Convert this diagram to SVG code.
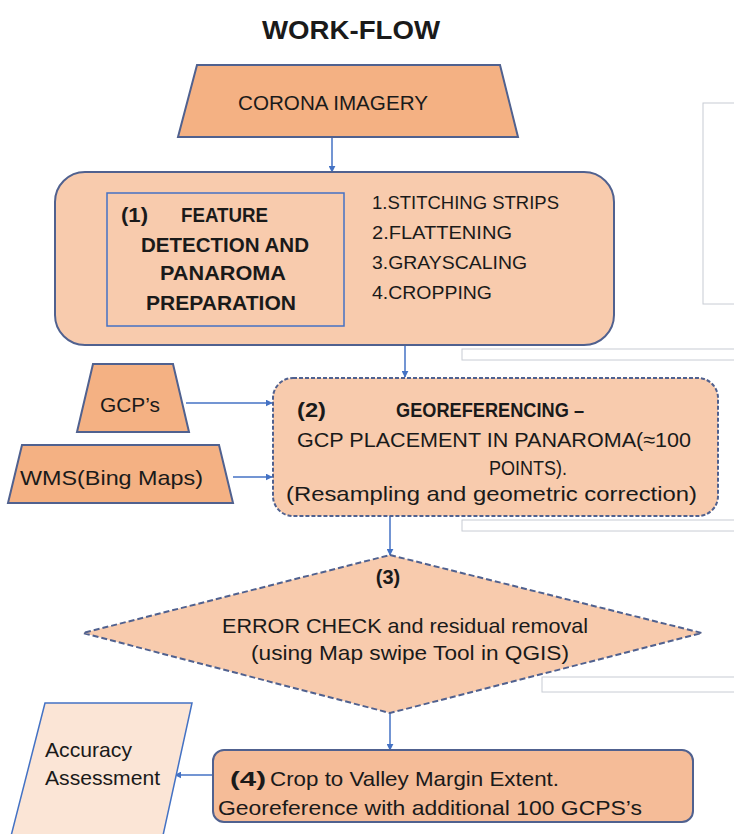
<svg xmlns="http://www.w3.org/2000/svg" width="734" height="834" viewBox="0 0 734 834">
<style>
text{font-family:"Liberation Sans","Noto Sans",Arial,sans-serif;fill:#1a1a1a}
.t{font-size:21px}
.s{font-size:18.5px}
.b{font-weight:bold}
.node{stroke:#50618f;stroke-width:2}
.dash{stroke-dasharray:4 2}
.dash2{stroke-dasharray:6 3}
.strong{fill:#F4B183}
.light{fill:#F8CBAD}
.conn{stroke:#4472C4;stroke-width:1.5;fill:none;marker-end:url(#ah)}
.ghost{fill:#fff;stroke:#c8ccd4;stroke-width:1}
</style>
<defs>
<marker id="ah" viewBox="0 0 10 10" refX="9" refY="5" markerWidth="7" markerHeight="7" orient="auto" markerUnits="userSpaceOnUse">
<path d="M0,0 L10,5 L0,10 z" fill="#4472C4"/>
</marker>
</defs>
<rect width="734" height="834" fill="#fff"/>
<g id="ghosts">
<rect class="ghost" x="703" y="103" width="40" height="201"/>
<rect class="ghost" x="462" y="349" width="280" height="11"/>
<rect class="ghost" x="462" y="520" width="280" height="11"/>
<rect class="ghost" x="542" y="677" width="200" height="15"/>
</g>
<text x="262" y="39" class="b" font-size="25" textLength="178" lengthAdjust="spacingAndGlyphs">WORK-FLOW</text>
<g id="connectors">
<line class="conn" x1="332" y1="138" x2="332" y2="172"/>
<line class="conn" x1="405" y1="346" x2="405" y2="377"/>
<line class="conn" x1="186" y1="403" x2="272" y2="403"/>
<line class="conn" x1="233" y1="477" x2="272" y2="477"/>
<line class="conn" x1="390" y1="516" x2="390" y2="555"/>
<line class="conn" x1="390" y1="713" x2="390" y2="750"/>
<line class="conn" x1="213" y1="775" x2="175" y2="775"/>
</g>
<g id="corona">
<polygon class="node strong" points="197,65 500,65 518,137 178,137"/>
<text x="238" y="110" class="t" textLength="190" lengthAdjust="spacingAndGlyphs">CORONA IMAGERY</text>
</g>
<g id="step1">
<rect class="node light" x="55" y="172" width="559" height="173" rx="30"/>
<rect x="107" y="193" width="237" height="133" fill="none" stroke="#4472C4" stroke-width="1.5"/>
<text class="b" font-size="20" x="121" y="222" textLength="27" lengthAdjust="spacingAndGlyphs">(1)</text>
<text class="b" font-size="20" x="181" y="222" textLength="87" lengthAdjust="spacingAndGlyphs">FEATURE</text>
<text class="b" font-size="20" x="141" y="252" textLength="168" lengthAdjust="spacingAndGlyphs">DETECTION AND</text>
<text class="b" font-size="20" x="160" y="280" textLength="126" lengthAdjust="spacingAndGlyphs">PANAROMA</text>
<text class="b" font-size="20" x="146" y="310" textLength="150" lengthAdjust="spacingAndGlyphs">PREPARATION</text>
<text class="s" x="372" y="209" textLength="187" lengthAdjust="spacingAndGlyphs">1.STITCHING STRIPS</text>
<text class="s" x="372" y="239" textLength="140" lengthAdjust="spacingAndGlyphs">2.FLATTENING</text>
<text class="s" x="372" y="269" textLength="155" lengthAdjust="spacingAndGlyphs">3.GRAYSCALING</text>
<text class="s" x="372" y="299" textLength="120" lengthAdjust="spacingAndGlyphs">4.CROPPING</text>
</g>
<g id="gcps">
<polygon class="node strong" points="93,364 173,364 189,432 77,432"/>
<text class="t" x="100" y="412" textLength="60" lengthAdjust="spacingAndGlyphs">GCP’s</text>
</g>
<g id="wms">
<polygon class="node strong" points="22,445 219,445 233,503 8,503"/>
<text class="t" x="20" y="485" textLength="183" lengthAdjust="spacingAndGlyphs">WMS(Bing Maps)</text>
</g>
<g id="step2">
<rect class="node light dash" x="273" y="378" width="445" height="138" rx="20"/>
<text class="b" font-size="20" x="297" y="417" textLength="29" lengthAdjust="spacingAndGlyphs">(2)</text>
<text class="b" font-size="20" x="396" y="417" textLength="188" lengthAdjust="spacingAndGlyphs">GEOREFERENCING –</text>
<text class="t" x="297" y="447" textLength="394" lengthAdjust="spacingAndGlyphs">GCP PLACEMENT IN PANAROMA(≈100</text>
<text class="t" x="489" y="475" textLength="78" lengthAdjust="spacingAndGlyphs">POINTS).</text>
<text class="t" x="286" y="501" textLength="411" lengthAdjust="spacingAndGlyphs">(Resampling and geometric correction)</text>
</g>
<g id="step3">
<polygon class="node light dash2" points="390,555 702,633 390,713 83,633"/>
<text class="b" font-size="20" x="388" y="584" text-anchor="middle">(3)</text>
<text class="t" x="222" y="633" textLength="366" lengthAdjust="spacingAndGlyphs">ERROR CHECK and residual removal</text>
<text class="t" x="251" y="660" textLength="318" lengthAdjust="spacingAndGlyphs">(using Map swipe Tool in QGIS)</text>
</g>
<g id="step4">
<rect class="node" x="213" y="750" width="480" height="72" rx="11" fill="#F5BC98"/>
<text class="b" font-size="21" x="230" y="786" textLength="36" lengthAdjust="spacingAndGlyphs">(4)</text>
<text class="t" x="270" y="786" textLength="289" lengthAdjust="spacingAndGlyphs">Crop to Valley Margin Extent.</text>
<text class="t" x="218" y="815" textLength="424" lengthAdjust="spacingAndGlyphs">Georeference with additional 100 GCPS’s</text>
</g>
<g id="accuracy">
<polygon points="45,703 192,703 162,840 10,840" fill="#FBE5D6" stroke="#4472C4" stroke-width="1.5"/>
<text class="t" x="45" y="757" textLength="87" lengthAdjust="spacingAndGlyphs">Accuracy</text>
<text class="t" x="45" y="785" textLength="115" lengthAdjust="spacingAndGlyphs">Assessment</text>
</g>
</svg>
